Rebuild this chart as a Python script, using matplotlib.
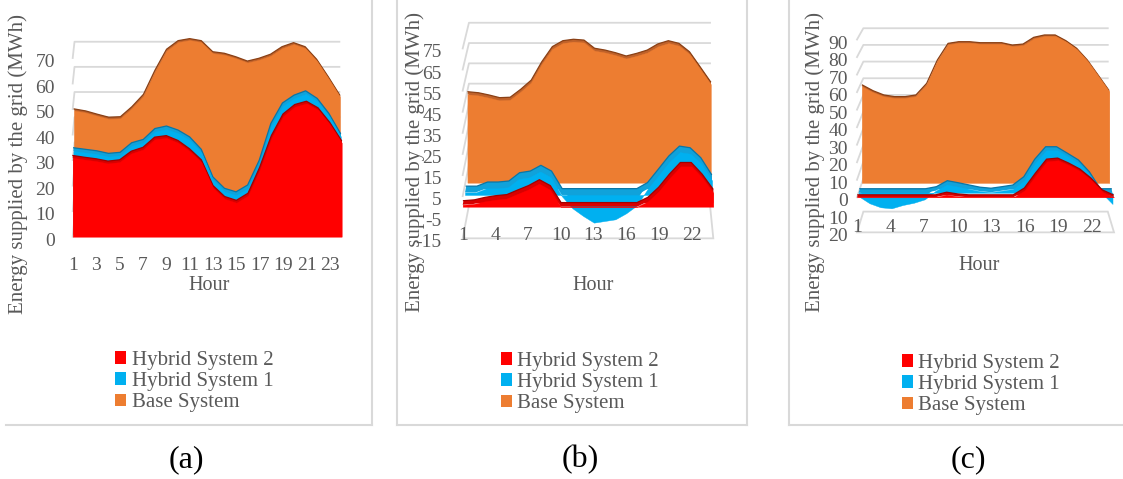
import numpy as np
import matplotlib
matplotlib.use("Agg")
import matplotlib.pyplot as plt
from matplotlib.transforms import Affine2D, IdentityTransform, ScaledTranslation
from matplotlib.patches import Polygon, Patch
from matplotlib.lines import Line2D

plt.rcParams['font.family'] = ['Liberation Serif', 'DejaVu Serif']
plt.rcParams['axes.unicode_minus'] = False

W, H, DPI = 1123, 479, 100

# ---------------- data ----------------
hours = list(range(1, 25))

base_a = [44.3, 43.5, 42.2, 41.0, 41.2, 45.2, 50.1, 59.7, 68.0, 71.4, 72.2, 71.4,
          67.0, 66.4, 65.0, 63.3, 64.4, 66.0, 69.0, 70.6, 69.0, 64.0, 57.1, 49.8]
hyb1_a = [31.0, 30.4, 29.8, 28.8, 29.2, 33.0, 34.3, 38.6, 39.6, 38.0, 35.3, 30.4,
          19.5, 15.0, 13.6, 16.3, 26.1, 40.6, 48.7, 51.8, 53.5, 50.5, 44.6, 36.7]
hyb2_a = [30.9, 30.2, 29.6, 28.7, 29.2, 32.6, 34.1, 38.1, 38.7, 36.8, 33.5, 29.2,
          19.1, 14.8, 13.3, 16.1, 26.3, 38.7, 47.2, 50.9, 52.2, 49.6, 43.9, 36.8]

base_b = [43.1, 42.6, 41.5, 40.2, 40.4, 44.3, 48.8, 57.8, 65.2, 68.1, 68.8, 68.4,
          64.4, 63.5, 62.2, 60.6, 61.9, 63.5, 66.5, 68.1, 66.8, 62.7, 55.4, 48.0]
hyb1_b = [1.2, 1.2, 3.2, 3.2, 3.7, 7.7, 8.5, 11.3, 8.5, -0.5, -6.4, -10.1,
          -13.3, -12.5, -11.7, -8.8, -5.0, 2.9, 9.3, 15.8, 20.6, 19.8, 15.0, 6.9]
hyb2_b = [0.9, 1.3, 2.5, 3.3, 3.8, 6.0, 8.1, 10.9, 8.1, 0.0, 0.0, 0.0,
          0.0, 0.0, 0.0, 0.0, 0.0, 2.5, 7.3, 13.6, 19.1, 19.1, 13.6, 6.5]

base_c = [57.2, 53.8, 51.3, 50.3, 50.3, 51.3, 58.2, 72.1, 82.0, 83.0, 83.0, 82.4,
          82.4, 82.4, 81.0, 81.6, 85.6, 87.0, 87.0, 83.6, 79.1, 72.1, 63.2, 54.2]
hyb1_c = [-2.0, -6.1, -8.4, -9.0, -7.1, -5.8, -3.8, 1.2, 4.7, 3.5, 2.2, 0.9,
          0.3, 1.2, 2.2, 7.0, 17.2, 24.5, 24.5, 20.7, 16.8, 9.9, 0.0, -6.5]
hyb2_c = [0.0, 0.0, 0.0, 0.0, 0.0, 0.0, 0.0, 0.0, 1.5, 0.5, 0.0, 0.0,
          0.0, 0.0, 0.0, 3.9, 12.5, 20.5, 21.1, 18.2, 14.8, 9.6, 2.9, 0.0]

series_labels = ['Hybrid System 2', 'Hybrid System 1', 'Base System']

yticks_a = [0, 10, 20, 30, 40, 50, 60, 70]
ylabels_a = ['0', '10', '20', '30', '40', '50', '60', '70']
xticks_a = [1, 3, 5, 7, 9, 11, 13, 15, 17, 19, 21, 23]

yticks_b = [-15, -5, 5, 15, 25, 35, 45, 55, 65, 75]
ylabels_b = ['-15', '-5', '5', '15', '25', '35', '45', '55', '65', '75']
xticks_b = [1, 4, 7, 10, 13, 16, 19, 22]

yticks_c = [-20, -10, 0, 10, 20, 30, 40, 50, 60, 70, 80, 90]
ylabels_c = ['20', '10', '0', '10', '20', '30', '40', '50', '60', '70', '80', '90']
xticks_c = [1, 4, 7, 10, 13, 16, 19, 22]

# ---------------- style ----------------
RED, RED_TOP, RED_EDGE = '#FF0000', '#D80000', '#A30000'
BLUE, BLUE_TOP, BLUE_EDGE = '#00B0F0', '#10A2DA', '#0A76A6'
ORANGE, ORANGE_TOP, ORANGE_EDGE = '#ED7D31', '#C0622A', '#8A4015'
GRID = '#D9D9D9'
TXT = '#595959'

fig = plt.figure(figsize=(W / DPI, H / DPI), dpi=DPI)
fig.patch.set_facecolor('white')


def persp(ax, vp, k):
    """perspective layer: uniform scale about the vanishing point (display px)"""
    s = 1.0 - k
    vx, vy = vp[0], H - vp[1]
    return ax.transData + Affine2D().translate(-vx, -vy).scale(s).translate(vx, vy)


def slab(ax, x, v, vp, kf, kb, face, top, edge, z):
    v = np.asarray(v, float)
    x = np.asarray(x, float)
    Tf = persp(ax, vp, kf)
    Tb = persp(ax, vp, kb)
    ax.fill_between(x, 0, v, transform=Tb, color=top, lw=0, zorder=z, clip_on=False)
    vt = np.maximum(v, 0)
    pf = Tf.transform(np.column_stack([x, vt]))
    pb = Tb.transform(np.column_stack([x, vt]))
    ax.add_patch(Polygon(np.vstack([pf, pb[::-1]]), closed=True, facecolor=top,
                         edgecolor='none', transform=IdentityTransform(),
                         zorder=z + 1, clip_on=False))
    ax.add_line(Line2D(pb[:, 0], pb[:, 1], color=edge, lw=0.9,
                       transform=IdentityTransform(), zorder=z + 1.5, clip_on=False))
    ax.fill_between(x, 0, v, transform=Tf, color=face, lw=0.3, edgecolor=face,
                    zorder=z + 2, clip_on=False)


def panel(left, right, ybot_px, ppu, ylim, vp, kwall, fr_blue,
          base, h1, h2, yt, yl, xt, ypad, xlab_y, floor):
    top_px = ybot_px - (ylim[1] - ylim[0]) * ppu
    ax = fig.add_axes([left / W, 1 - ybot_px / H, (right - left) / W,
                       (ybot_px - top_px) / H])
    ax.set_xlim(1, 24)
    ax.set_ylim(*ylim)
    ax.set_autoscale_on(False)
    ax.patch.set_visible(False)
    for sp in ax.spines.values():
        sp.set_visible(False)
    ax.set_yticks(yt)
    ax.set_yticklabels(yl)
    ax.set_xticks([])
    ax.tick_params(axis='both', length=0, labelsize=14, labelcolor=TXT)
    ax.tick_params(axis='y', pad=ypad)
    down = ScaledTranslation(0, -2.5 / DPI, fig.dpi_scale_trans)
    for lab in ax.get_yticklabels():
        lab.set_transform(lab.get_transform() + down)

    # hour labels (category axis)
    off = ScaledTranslation(0, -(xlab_y - ybot_px) / DPI, fig.dpi_scale_trans)
    for t in xt:
        ax.text(t, ylim[0], str(t), transform=ax.transData + off, ha='center',
                va='center', fontsize=14, color=TXT, clip_on=False)

    Tw = persp(ax, vp, kwall)
    T0 = ax.transData
    for v in yt:
        if v < 0 and floor:
            continue
        pa = Tw.transform([[1, v], [24, v]])
        pl = T0.transform([[1, v]])
        pts = np.vstack([pl, pa])
        ax.add_line(Line2D(pts[:, 0], pts[:, 1], color=GRID, lw=1.3,
                           transform=IdentityTransform(), zorder=0.5, clip_on=False))
    if floor:
        ym = ylim[0]
        pts = np.vstack([T0.transform([[1, ym], [24, ym]]),
                         Tw.transform([[24, ym], [1, ym]])])
        ax.add_patch(Polygon(pts, closed=True, facecolor='none', edgecolor=GRID,
                             lw=1.3, transform=IdentityTransform(), zorder=0.5,
                             clip_on=False))

    slab(ax, hours, base, vp, kwall * 0.757, kwall * 0.85,
         ORANGE, ORANGE_TOP, ORANGE_EDGE, 2)
    slab(ax, hours, h1, vp, kwall * fr_blue[0], kwall * fr_blue[1],
         BLUE, BLUE_TOP, BLUE_EDGE, 5)
    slab(ax, hours, h2, vp, 0.0, kwall * 0.13, RED, RED_TOP, RED_EDGE, 8)
    return ax


panel(72.7, 341.7, 236.7, 2.553, (0, 80), (190, -1000), 0.01536, (0.37, 0.55),
      base_a, hyb1_a, hyb2_a, yticks_a, ylabels_a, xticks_a, 12.7, 265, False)
panel(462.7, 713.3, 238.35, 2.11, (-15, 85), (627, -628), 0.038, (0.37, 0.57),
      base_b, hyb1_b, hyb2_b, yticks_b, ylabels_b, xticks_b, 15.1, 235, True)
panel(857.0, 1114.0, 232.36, 1.753, (-20, 100), (987, -191), 0.049, (0.24, 0.45),
      base_c, hyb1_c, hyb2_c, yticks_c, ylabels_c, xticks_c, 6.5, 227, True)

# ---------------- texts ----------------
def ftext(x, y, s, **kw):
    fig.text(x / W, 1 - y / H, s, **kw)

for (x, y) in [(18.5, 164), (415, 162), (815, 162)]:
    ftext(x, y, 'Energy supplied by the grid (MWh)', rotation=90, ha='center',
          va='center', fontsize=15, color=TXT)
for (x, y) in [(209, 285), (593, 285), (979, 265)]:
    ftext(x, y, 'Hour', ha='center', va='center', fontsize=14.5, color=TXT)
for (x, y, s) in [(186.7, 460, '(a)'), (580, 460, '(b)'), (968, 460, '(c)')]:
    ftext(x, y, s, ha='center', va='center', fontsize=23, color='black')

# legends
handles = [Patch(facecolor=RED, edgecolor='none'),
           Patch(facecolor=BLUE, edgecolor='none'),
           Patch(facecolor=ORANGE, edgecolor='none')]
for (x, y) in [(115, 351), (500.7, 352), (901.7, 354)]:
    fig.legend(handles, series_labels, loc='upper left',
               bbox_to_anchor=(x / W, 1 - y / H), bbox_transform=fig.transFigure,
               frameon=False, borderpad=0, borderaxespad=0, handlelength=0.55,
               handleheight=0.55, handletextpad=0.25, labelspacing=0.1,
               fontsize=15, labelcolor=TXT)

# panel borders
def fline(x1, y1, x2, y2):
    fig.add_artist(Line2D([x1 / W, x2 / W], [1 - y1 / H, 1 - y2 / H],
                          transform=fig.transFigure, color=GRID, lw=1.5))

fline(372, 0, 372, 425)
fline(6, 425, 372, 425)
fline(397, 0, 397, 425)
fline(747, 0, 747, 425)
fline(397, 425, 747, 425)
fline(789, 0, 789, 425)
fline(789, 425, 1123, 425)

fig.savefig('out.png', dpi=DPI, facecolor='white')
